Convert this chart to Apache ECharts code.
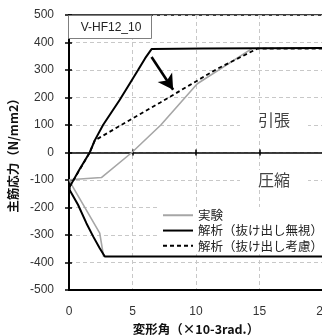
<!DOCTYPE html>
<html><head><meta charset="utf-8">
<script src="https://cdn.jsdelivr.net/npm/echarts@6/dist/echarts.min.js"></script>
<style>html,body{margin:0;padding:0;background:#fff}#c{width:322px;height:335px}</style>
</head><body><div id="c"></div>
<script>
// ---- data ----
const xTicks = [0, 5, 10, 15, 20];
const yTicks = [-500, -400, -300, -200, -100, 0, 100, 200, 300, 400, 500];
const seriesNames = ['実験', '解析（抜け出し無視）', '解析（抜け出し考慮）'];
const expX = [2.73, 2.42, 0.2, 0.03, 2.55, 4.95, 7.23, 10.1, 14.4];
const expY = [-380, -293, -117, -99, -91, 0, 100, 250, 378];
const solidX = [20, 2.82, 2.42, 1.9, 1.37, 0.71, 0.05, 0.05, 0.8, 1.63, 2.03, 2.68, 4.0, 4.8, 5.45, 6.0, 6.5, 10.5, 20];
const solidY = [-378, -378, -348, -305, -257, -190, -136, -125, -64, 0, 44, 100, 192, 252, 301, 343, 376, 378, 380];
const dashX = [0.05, 1.63, 2.03, 4.8, 7.2, 9.5, 11.7, 14.85, 20];
const dashY = [-125, 0, 44, 118, 182, 245, 305, 378, 378];
const arrowFrom = [6.5, 347];
const arrowTo = [8.2, 228];
const boxLabel = 'V-HF12_10';
const zoneLabels = ['引張', '圧縮'];
const xName = '変形角（×10-3rad.）';
const yName = '主筋応力（N/mm2）';

const zip = (a, b) => a.map((v, i) => [v, b[i]]);
const FONT = 'Liberation Sans, Arial, Noto Sans CJK JP, sans-serif';
const JFONT = 'Noto Sans CJK JP, sans-serif';

const chart = echarts.init(document.getElementById('c'), null, {renderer: 'canvas'});
const grid = {left: 69, top: 15, width: 254, height: 275, show: true, borderColor: '#000', borderWidth: 1.5,
  backgroundColor: 'transparent', containLabel: false, outerBoundsMode: 'none'};
const split = {show: true, lineStyle: {color: '#c8c8c8', type: [4, 3], width: 1}};

chart.setOption({
  animation: false,
  grid: grid,
  xAxis: [
    {type: 'value', min: xTicks[0], max: xTicks[xTicks.length - 1], interval: 5, position: 'bottom',
     axisLine: {show: true, onZero: false, lineStyle: {color: '#000', width: 2}},
     axisTick: {show: false},
     axisLabel: {margin: 16, fontSize: 12, color: '#333', fontFamily: FONT},
     splitLine: split,
     name: xName, nameLocation: 'middle', nameGap: 28,
     nameTextStyle: {fontSize: 12.5, fontWeight: 'bold', color: '#111', fontFamily: JFONT}},
    {type: 'value', min: 0, max: 20, interval: 5, position: 'bottom',
     axisLine: {show: true, onZero: true, lineStyle: {color: '#000', width: 1.5}},
     axisTick: {show: true, length: 3, lineStyle: {color: '#000', width: 1.5}},
     axisLabel: {show: false}, splitLine: {show: false}},
    {type: 'value', min: 0, max: 20, interval: 5, position: 'top',
     axisLine: {show: false, onZero: true},
     axisTick: {show: true, length: 3, lineStyle: {color: '#000', width: 1.5}},
     axisLabel: {show: false}, splitLine: {show: false}}
  ],
  yAxis: [
    {type: 'value', min: yTicks[0], max: yTicks[yTicks.length - 1], interval: 100, position: 'left',
     axisLine: {show: true, onZero: false, lineStyle: {color: '#000', width: 2}},
     axisTick: {show: true, length: 4, lineStyle: {color: '#000', width: 1.5}},
     axisLabel: {margin: 15, fontSize: 12, color: '#333', fontFamily: FONT},
     splitLine: split,
     name: yName, nameLocation: 'middle', nameGap: 42,
     nameTextStyle: {fontSize: 12.5, fontWeight: 'bold', color: '#111', fontFamily: JFONT}},
    {type: 'value', min: -500, max: 500, interval: 100, position: 'left',
     axisLine: {show: false, onZero: false},
     axisTick: {show: true, inside: true, length: 3, lineStyle: {color: '#000', width: 1.5}},
     axisLabel: {show: false}, splitLine: {show: false}}
  ],
  legend: {
    orient: 'vertical', left: 158, top: 207, itemWidth: 30, itemHeight: 14, itemGap: 2.8,
    padding: [2, 4, 2, 4], backgroundColor: '#fff',
    itemStyle: {opacity: 0},
    textStyle: {fontSize: 12.5, color: '#222', fontFamily: JFONT},
    data: seriesNames
  },
  series: [
    {name: seriesNames[0], type: 'line', data: zip(expX, expY), symbol: 'none',
     lineStyle: {color: '#a6a6a6', width: 1.6}, itemStyle: {color: '#a6a6a6'}, z: 2},
    {name: seriesNames[1], type: 'line', data: zip(solidX, solidY), symbol: 'none',
     lineStyle: {color: '#000', width: 2}, itemStyle: {color: '#000'}, z: 3,
     markLine: {silent: true, symbol: ['none', 'arrow'], symbolSize: [13, 15],
       label: {show: false}, lineStyle: {color: '#000', width: 2.6, type: 'solid'},
       data: [[{coord: arrowFrom}, {coord: arrowTo}]]}},
    {name: seriesNames[2], type: 'line', data: zip(dashX, dashY), symbol: 'none',
     lineStyle: {color: '#000', width: 1.8, type: [4, 3]}, itemStyle: {color: '#000'}, z: 4}
  ],
  graphic: [
    {type: 'rect', z: 10, shape: {x: 68.5, y: 15.5, width: 83, height: 23},
     style: {fill: '#fff', stroke: '#7f7f7f', lineWidth: 1}},
    {type: 'text', z: 11, x: 111, y: 27.5,
     style: {text: boxLabel, align: 'center', verticalAlign: 'middle', fontSize: 12, fontFamily: FONT, fill: '#222'}},
    {type: 'text', z: 11, x: 274, y: 120,
     style: {text: zoneLabels[0], align: 'center', verticalAlign: 'middle', fontSize: 16, fontFamily: JFONT, fill: '#444',
             backgroundColor: '#fff', padding: [2, 18]}},
    {type: 'text', z: 11, x: 274, y: 180,
     style: {text: zoneLabels[1], align: 'center', verticalAlign: 'middle', fontSize: 16, fontFamily: JFONT, fill: '#444',
             backgroundColor: '#fff', padding: [2, 18]}}
  ]
});
</script></body></html>
